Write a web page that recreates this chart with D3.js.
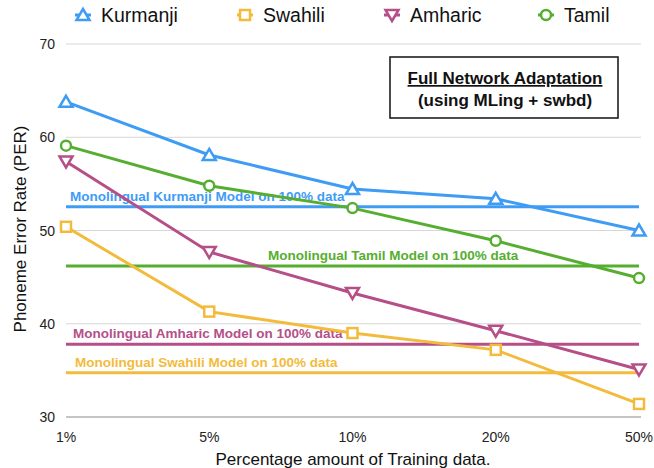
<!DOCTYPE html>
<html><head><meta charset="utf-8">
<script src="https://cdn.jsdelivr.net/npm/d3@7"></script>
<style>body{margin:0;background:#fff}svg{display:block;font-family:"Liberation Sans",Arial,Helvetica,sans-serif}</style>
</head><body><svg id="c" width="654" height="468"></svg>
<script>
const categories = ["1%","5%","10%","20%","50%"];
const yTicks = [30,40,50,60,70];
const seriesNames = ["Kurmanji","Swahili","Amharic","Tamil"];
const kurmanji = [63.8,58.1,54.45,53.4,50.0];
const swahili  = [50.4,41.3,39.0,37.2,31.4];
const amharic  = [57.4,47.7,43.3,39.25,35.1];
const tamil    = [59.1,54.8,52.4,48.9,44.9];
const monoNames = ["Monolingual Kurmanji Model on 100% data","Monolingual Tamil Model on 100% data","Monolingual Amharic Model on 100% data","Monolingual Swahili Model on 100% data"];
const monoValues = [52.55,46.2,37.8,34.75];

const colors = {Kurmanji:"#3f9cf5",Swahili:"#f3bb3c",Amharic:"#b64f88",Tamil:"#56ae30"};
const markers = {Kurmanji:"tri",Swahili:"sq",Amharic:"tridown",Tamil:"circ"};
const dataMap = {Kurmanji:kurmanji,Swahili:swahili,Amharic:amharic,Tamil:tamil};

const svg = d3.select("#c");
const x = d3.scalePoint().domain(categories).range([66,639]);
const y = d3.scaleLinear().domain([30,70]).range([417,44]);

// gridlines
svg.append("g").selectAll("line").data(yTicks).join("line")
  .attr("x1",66).attr("x2",641).attr("y1",d=>y(d)).attr("y2",d=>y(d))
  .attr("stroke",d=>d===30?"#8a8a8a":"#d6d6d6").attr("stroke-width",1);
svg.append("g").selectAll("text").data(yTicks).join("text")
  .attr("x",55).attr("y",d=>y(d)+5).attr("text-anchor","end")
  .attr("font-size",14).attr("fill","#222").text(d=>d);
svg.append("g").selectAll("text").data(categories).join("text")
  .attr("x",d=>x(d)).attr("y",442).attr("text-anchor","middle")
  .attr("font-size",14).attr("fill","#222").text(d=>d);

svg.append("text").attr("transform","translate(26,229) rotate(-90)")
  .attr("text-anchor","middle").attr("font-size",17).attr("fill","#111").text("Phoneme Error Rate (PER)");
svg.append("text").attr("x",353).attr("y",465).attr("text-anchor","middle")
  .attr("font-size",17).attr("fill","#111").text("Percentage amount of Training data.");

// monolingual lines
const monoColors = [colors.Kurmanji,colors.Tamil,colors.Amharic,colors.Swahili];
const monoLabelX = [70,268,73,75];
monoValues.forEach((v,i)=>{
  svg.append("line").attr("x1",66).attr("x2",639).attr("y1",y(v)).attr("y2",y(v))
    .attr("stroke",monoColors[i]).attr("stroke-width",3);
  svg.append("text").attr("x",monoLabelX[i]).attr("y",y(v)-6)
    .attr("font-size",13.5).attr("font-weight","bold").attr("fill",monoColors[i]).text(monoNames[i]);
});

function drawMarker(g,type,cx,cy,col){
  if(type==="circ") g.append("circle").attr("cx",cx).attr("cy",cy).attr("r",5).attr("fill","#fff").attr("stroke",col).attr("stroke-width",2.5);
  else if(type==="sq") g.append("rect").attr("x",cx-5).attr("y",cy-5).attr("width",10).attr("height",10).attr("fill","#fff").attr("stroke",col).attr("stroke-width",2.5);
  else if(type==="tri") g.append("path").attr("d",`M${cx},${cy-6}L${cx+6.5},${cy+5}L${cx-6.5},${cy+5}Z`).attr("fill","#fff").attr("stroke",col).attr("stroke-width",2.5);
  else g.append("path").attr("d",`M${cx},${cy+6}L${cx+6.5},${cy-5}L${cx-6.5},${cy-5}Z`).attr("fill","#fff").attr("stroke",col).attr("stroke-width",2.5);
}

const line = d3.line().x((d,i)=>x(categories[i])).y(d=>y(d));
seriesNames.forEach(n=>{
  const g = svg.append("g");
  g.append("path").attr("d",line(dataMap[n])).attr("fill","none").attr("stroke",colors[n]).attr("stroke-width",3);
  dataMap[n].forEach((v,i)=>drawMarker(g,markers[n],x(categories[i]),y(v),colors[n]));
});

// legend
const legX = [83,245,392,546];
seriesNames.forEach((n,i)=>{
  const g = svg.append("g");
  g.append("line").attr("x1",legX[i]-8).attr("x2",legX[i]+8).attr("y1",15).attr("y2",15).attr("stroke",colors[n]).attr("stroke-width",3);
  drawMarker(g,markers[n],legX[i],15,colors[n]);
  g.append("text").attr("x",legX[i]+18).attr("y",22).attr("font-size",19.5).attr("fill","#111").text(n);
});

// annotation box
svg.append("rect").attr("x",390).attr("y",57).attr("width",228).attr("height",61)
  .attr("fill","#fff").attr("stroke","#111").attr("stroke-width",1.5);
svg.append("text").attr("x",505).attr("y",84).attr("text-anchor","middle").attr("font-size",17)
  .attr("font-weight","bold").attr("text-decoration","underline").attr("fill","#111").text("Full Network Adaptation");
svg.append("text").attr("x",505).attr("y",106).attr("text-anchor","middle").attr("font-size",17)
  .attr("font-weight","bold").attr("fill","#111").text("(using MLing + swbd)");
</script></body></html>
